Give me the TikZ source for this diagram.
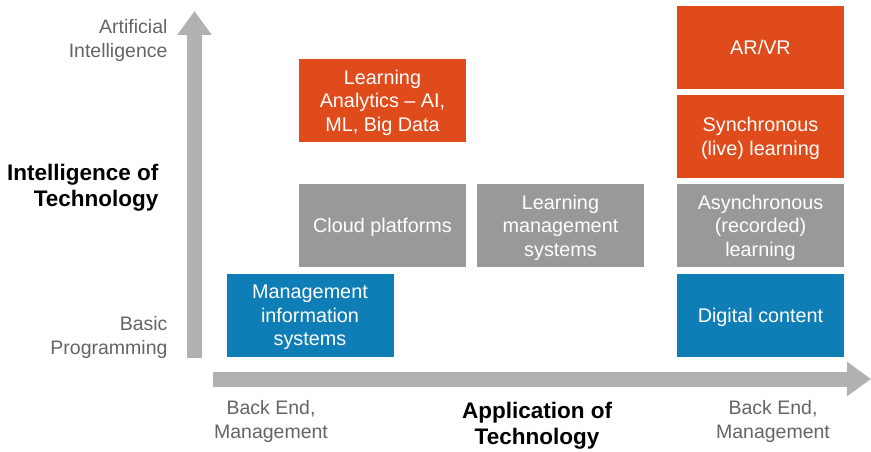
\documentclass[tikz,border=0pt]{standalone}
\usepackage{fontspec}
\setmainfont{Liberation Sans}
\usetikzlibrary{arrows.meta}
\definecolor{techorange}{RGB}{224,75,28}
\definecolor{techblue}{RGB}{16,126,182}
\definecolor{techgray}{RGB}{153,153,153}
\definecolor{axisgray}{RGB}{176,177,176}
\definecolor{labelgray}{RGB}{100,100,100}

\begin{document}
\begin{tikzpicture}[x=1pt,y=-1pt,
  box/.style={minimum width=167pt,minimum height=83pt,inner sep=0pt,align=center,
    text depth=-4pt,text=white,font=\fontsize{19.8}{23.5}\selectfont},
  axislabel/.style={align=right,text=labelgray,font=\fontsize{19.5}{24}\selectfont},
  axistitle/.style={font=\bfseries\fontsize{22.5}{26.5}\selectfont},
  axis/.style={axisgray,line width=15pt,-{Triangle[width=33pt,length=24pt]}}]
\useasboundingbox (0,0) rectangle (871,452);
% axes
\coordinate (yfoot) at (194.5,358);
\coordinate (ytop) at (194.5,11);
\coordinate (xfoot) at (213,379);
\coordinate (xend) at (871,379);
\draw[axis] (yfoot) -- (ytop);
\draw[axis] (xfoot) -- (xend);
% boxes
\node[box,fill=techorange] (arvr) at (760.5,47.5) {AR/VR};
\node[box,fill=techorange] (sync) at (760.5,136.5) {Synchronous\\(live) learning};
\node[box,fill=techgray] (async) at (760.5,225.5) {Asynchronous\\(recorded)\\learning};
\node[box,fill=techblue] (digital) at (760.5,315.5) {Digital content};
\node[box,fill=techorange] (analytics) at (382.5,100.5) {Learning\\Analytics -- AI,\\ML, Big Data};
\node[box,fill=techgray] (cloud) at (382.5,225.5) {Cloud platforms};
\node[box,fill=techgray] (lms) at (560.5,225.5) {Learning\\management\\systems};
\node[box,fill=techblue] (mis) at (310,315.5) {Management\\information\\systems};
% labels
\node[axislabel,anchor=east] (ai) at (171,40.5) {Artificial\\Intelligence};
\node[axislabel,anchor=east] (basic) at (171,337) {Basic\\Programming};
\node[axistitle,align=right,anchor=east] (ytitle) at (162,187.5) {Intelligence of\\Technology};
\node[axislabel,align=center] (backleft) at (271,421) {Back End,\\Management};
\node[axistitle,align=center] (xtitle) at (537,425.5) {Application of\\Technology};
\node[axislabel,align=center] (backright) at (773,421) {Back End,\\Management};
\end{tikzpicture}
\end{document}
